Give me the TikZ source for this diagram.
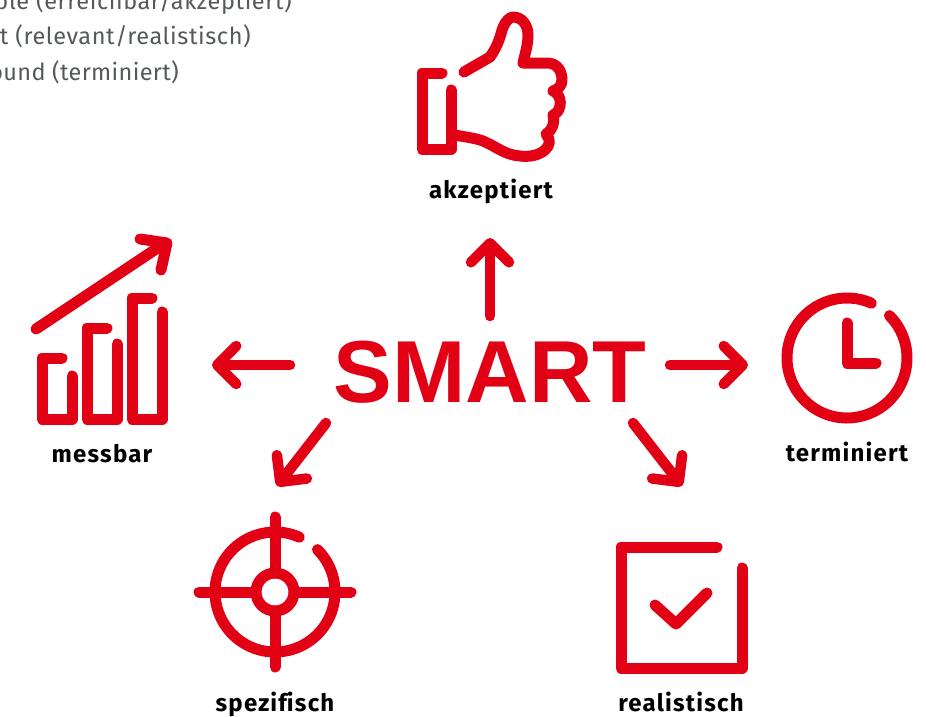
\documentclass[tikz,border=0pt]{standalone}
\usepackage{fontspec}
\setmainfont{Fira Sans}
\newfontfamily\labelfont[LetterSpace=5]{Fira Sans Bold}
\newfontfamily\notefont[LetterSpace=2.6]{Fira Sans}
\newfontfamily\notefontb[LetterSpace=1.5]{Fira Sans}
\newfontfamily\bigfont{Liberation Sans Bold}
\usetikzlibrary{arrows.meta}
\definecolor{boschred}{HTML}{E20015}
\definecolor{greytext}{HTML}{55595C}
\tikzset{
  icon/.style={draw=boschred,line width=11pt,line cap=round,line join=round,fill=none},
  spoke/.style={draw=boschred,line width=10.5pt,line cap=round,
    -{Straight Barb[length=19pt,width=38pt,round,line width=10.5pt]}},
  caption/.style={font=\fontsize{24}{26}\selectfont\labelfont,text=black,inner sep=0pt,anchor=base},
  note/.style={font=\fontsize{23.5}{27}\selectfont\notefont,text=greytext,inner sep=0pt,anchor=base east},
}
\begin{document}
\begin{tikzpicture}[x=1pt,y=-1pt]
\useasboundingbox (0,0) rectangle (926,716);
\begin{scope}
\clip (0,0) rectangle (926,716);
\node[note] (n1) at (292,9) {ble (erreichbar/akzeptiert)};
\node[note] (n2) at (251,44) {t (relevant/realistisch)};
\node[note,font=\fontsize{23.5}{27}\selectfont\notefontb] (n3) at (179,80) {bound (terminiert)};
\end{scope}

\node[font=\fontsize{88}{90}\selectfont\bigfont,text=boschred,inner sep=0pt,anchor=base] (smart) at (490,402.5) {SMART};

% arrow end points
\coordinate (uA) at (490,316); \coordinate (uB) at (490,238);
\coordinate (lA) at (290,365); \coordinate (lB) at (212,365);
\coordinate (rA) at (670,365); \coordinate (rB) at (748,365);
\coordinate (dlA) at (326,423); \coordinate (dlB) at (277,486);
\coordinate (drA) at (633,423); \coordinate (drB) at (682,486);
\draw[spoke] (uA) -- (uB);
\draw[spoke] (lA) -- (lB);
\draw[spoke] (rA) -- (rB);
\draw[spoke] (dlA) -- (dlB);
\draw[spoke] (drA) -- (drB);

% thumb
\draw[icon] (442,73) -- (422,73) -- (422,149) -- (451,149) -- (451,90);
\draw[icon] (464,72) -- (490,57)
  .. controls (497,47) and (500,38) .. (502,30)
  .. controls (505,21) and (510,17) .. (513,17)
  .. controls (522,17) and (528,25) .. (528,35)
  .. controls (528,45) and (525,54) .. (523,63)
  -- (547,63)
  .. controls (558,63) and (562,72) .. (562,80)
  .. controls (562,86) and (558,89) .. (553,91)
  .. controls (560,94) and (561,101) .. (560,106)
  .. controls (559,111) and (556,114) .. (553,115)
  .. controls (555,122) and (553,130) .. (546,134)
  .. controls (551,139) and (550,146) .. (545,150)
  .. controls (538,156) and (528,157) .. (520,156)
  .. controls (505,155) and (497,147) .. (483,141)
  .. controls (475,138) and (465,137) .. (455,135);
\node[caption] (akz) at (491,198) {akzeptiert};

% chart
\draw[icon] (36,329) -- (165,243);
\draw[icon] (140,239) -- (167,243) -- (161,270);
\draw[icon] (62,358) -- (42,358) -- (42,419) -- (72,419) -- (72,376);
\draw[icon] (107,328) -- (87,328) -- (87,419) -- (117,419) -- (117,344);
\draw[icon] (152,298) -- (132,298) -- (132,419) -- (162,419) -- (162,312);
\node[caption] (mess) at (102,462) {messbar};

% clock
\coordinate (clk) at (847,358);
\draw[icon] (clk) ++(-66:60) arc[start angle=66,end angle=405,radius=60pt];
\draw[icon] (847,323) -- (847,363) -- (876,363);
\node[caption] (term) at (847,461) {terminiert};

% target
\coordinate (tg) at (275,592);
\draw[icon] (tg) ++(-66:60) arc[start angle=66,end angle=405,radius=60pt];
\draw[icon] (tg) circle[radius=19pt];
\draw[icon] (275,517) -- (275,573);
\draw[icon] (275,611) -- (275,667);
\draw[icon] (199,592) -- (256,592);
\draw[icon] (294,592) -- (351,592);
\node[caption] (spez) at (275,711) {spezif\kern0pt isch};

% check box
\draw[icon] (717,547) -- (621,547) -- (621,668) -- (742,668) -- (742,568);
\draw[icon] (655,605) -- (676,624) -- (707,593);
\node[caption] (real) at (681,711) {realistisch};
\end{tikzpicture}
\end{document}
